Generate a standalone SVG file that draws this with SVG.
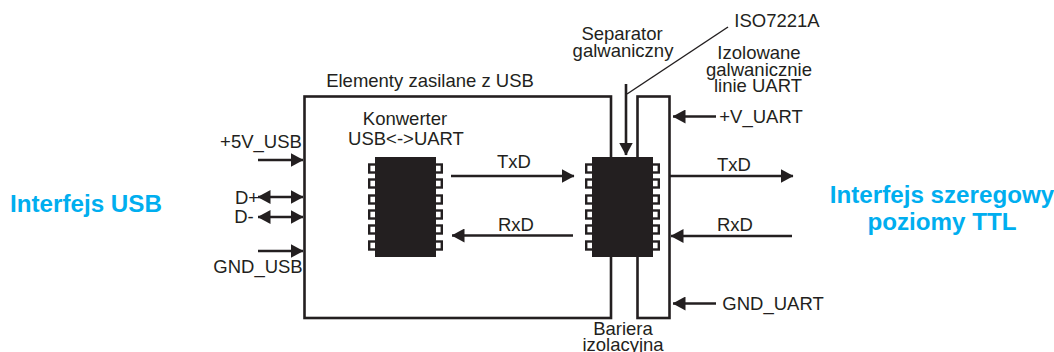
<svg xmlns="http://www.w3.org/2000/svg" width="1054" height="352" viewBox="0 0 1054 352">
<style>
text{font-family:"Liberation Sans",Arial,sans-serif;font-size:18.500px;fill:#231f20;text-anchor:middle}
.t{font-weight:bold;font-size:24.200px;fill:#00aeef}
.box{fill:#fff;stroke:#231f20;stroke-width:2.6}
.c{fill:none;stroke:#231f20;stroke-width:2.6}
.a{marker-end:url(#h)}
.b{marker-start:url(#hs);marker-end:url(#h)}
.body{fill:#231f20}
.pin{fill:#fff;stroke:#231f20;stroke-width:2.4}
</style>
<defs>
<marker id="h" markerUnits="userSpaceOnUse" markerWidth="13" markerHeight="14" refX="12.5" refY="7" orient="auto"><path d="M0 0L13 7L0 14Z" fill="#231f20"/></marker>
<marker id="hs" markerUnits="userSpaceOnUse" markerWidth="13" markerHeight="14" refX="0.5" refY="7" orient="auto"><path d="M13 0L0 7L13 14Z" fill="#231f20"/></marker>
<g id="chip"><rect class="pin" x="-5.8" y="7.5" width="7" height="8"/><rect class="pin" x="-5.8" y="22.5" width="7" height="8"/><rect class="pin" x="-5.8" y="38.5" width="7" height="8"/><rect class="pin" x="-5.8" y="53.5" width="7" height="8"/><rect class="pin" x="-5.8" y="68.5" width="7" height="8"/><rect class="pin" x="-5.8" y="84.5" width="7" height="8"/><rect class="pin" x="59.8" y="7.5" width="7" height="8"/><rect class="pin" x="59.8" y="22.5" width="7" height="8"/><rect class="pin" x="59.8" y="38.5" width="7" height="8"/><rect class="pin" x="59.8" y="53.5" width="7" height="8"/><rect class="pin" x="59.8" y="68.5" width="7" height="8"/><rect class="pin" x="59.8" y="84.5" width="7" height="8"/><rect class="body" x="0" y="0" width="61" height="100"/></g>
</defs>
<g id="usb-box"><rect class="box" x="304.500" y="96.500" width="306.500" height="221.500"/><text x="430" y="87">Elementy zasilane z USB</text></g>
<g id="isolated-box"><rect class="box" x="637.500" y="96.500" width="32" height="221.500"/></g>
<g id="converter"><use href="#chip" x="375" y="157"/><text x="405" y="125">Konwerter</text><text x="406" y="145">USB&lt;-&gt;UART</text></g>
<g id="separator"><use href="#chip" x="592" y="157"/><text x="622" y="40">Separator</text><text x="623" y="57">galwaniczny</text></g>
<g id="connectors">
<path class="c a" d="M258 160H303"/>
<path class="c b" d="M258 197H303"/>
<path class="c b" d="M258 217H303"/>
<path class="c a" d="M258 251H303"/>
<path class="c a" d="M451 176H574"/>
<path class="c a" d="M573 235.500H452"/>
<path class="c a" d="M670 176H793"/>
<path class="c a" d="M792 236H671"/>
<path class="c a" d="M716 116.500H673"/>
<path class="c a" d="M716 303.500H673"/>
<path class="c a" d="M626 84V155"/>
<path class="c" style="stroke-width:1.500" d="M627 94L728 27"/>
</g>
<g id="labels">
<text x="261" y="148">+5V_USB</text>
<text x="247" y="204">D+</text>
<text x="244" y="223">D-</text>
<text x="258" y="273">GND_USB</text>
<text x="514" y="168">TxD</text>
<text x="516" y="231">RxD</text>
<text x="734" y="171">TxD</text>
<text x="735" y="231">RxD</text>
<text x="761" y="123">+V_UART</text>
<text x="773" y="310">GND_UART</text>
<text x="777" y="27">ISO7221A</text>
<text x="759" y="59">Izolowane</text>
<text x="759" y="76">galwanicznie</text>
<text x="758" y="92">linie UART</text>
<text x="623" y="335">Bariera</text>
<text x="623" y="351">izolacyjna</text>
</g>
<g id="usb-interface"><text class="t" x="86" y="212">Interfejs USB</text></g>
<g id="serial-interface"><text class="t" x="942" y="203">Interfejs szeregowy</text><text class="t" x="942" y="230">poziomy TTL</text></g>
</svg>
